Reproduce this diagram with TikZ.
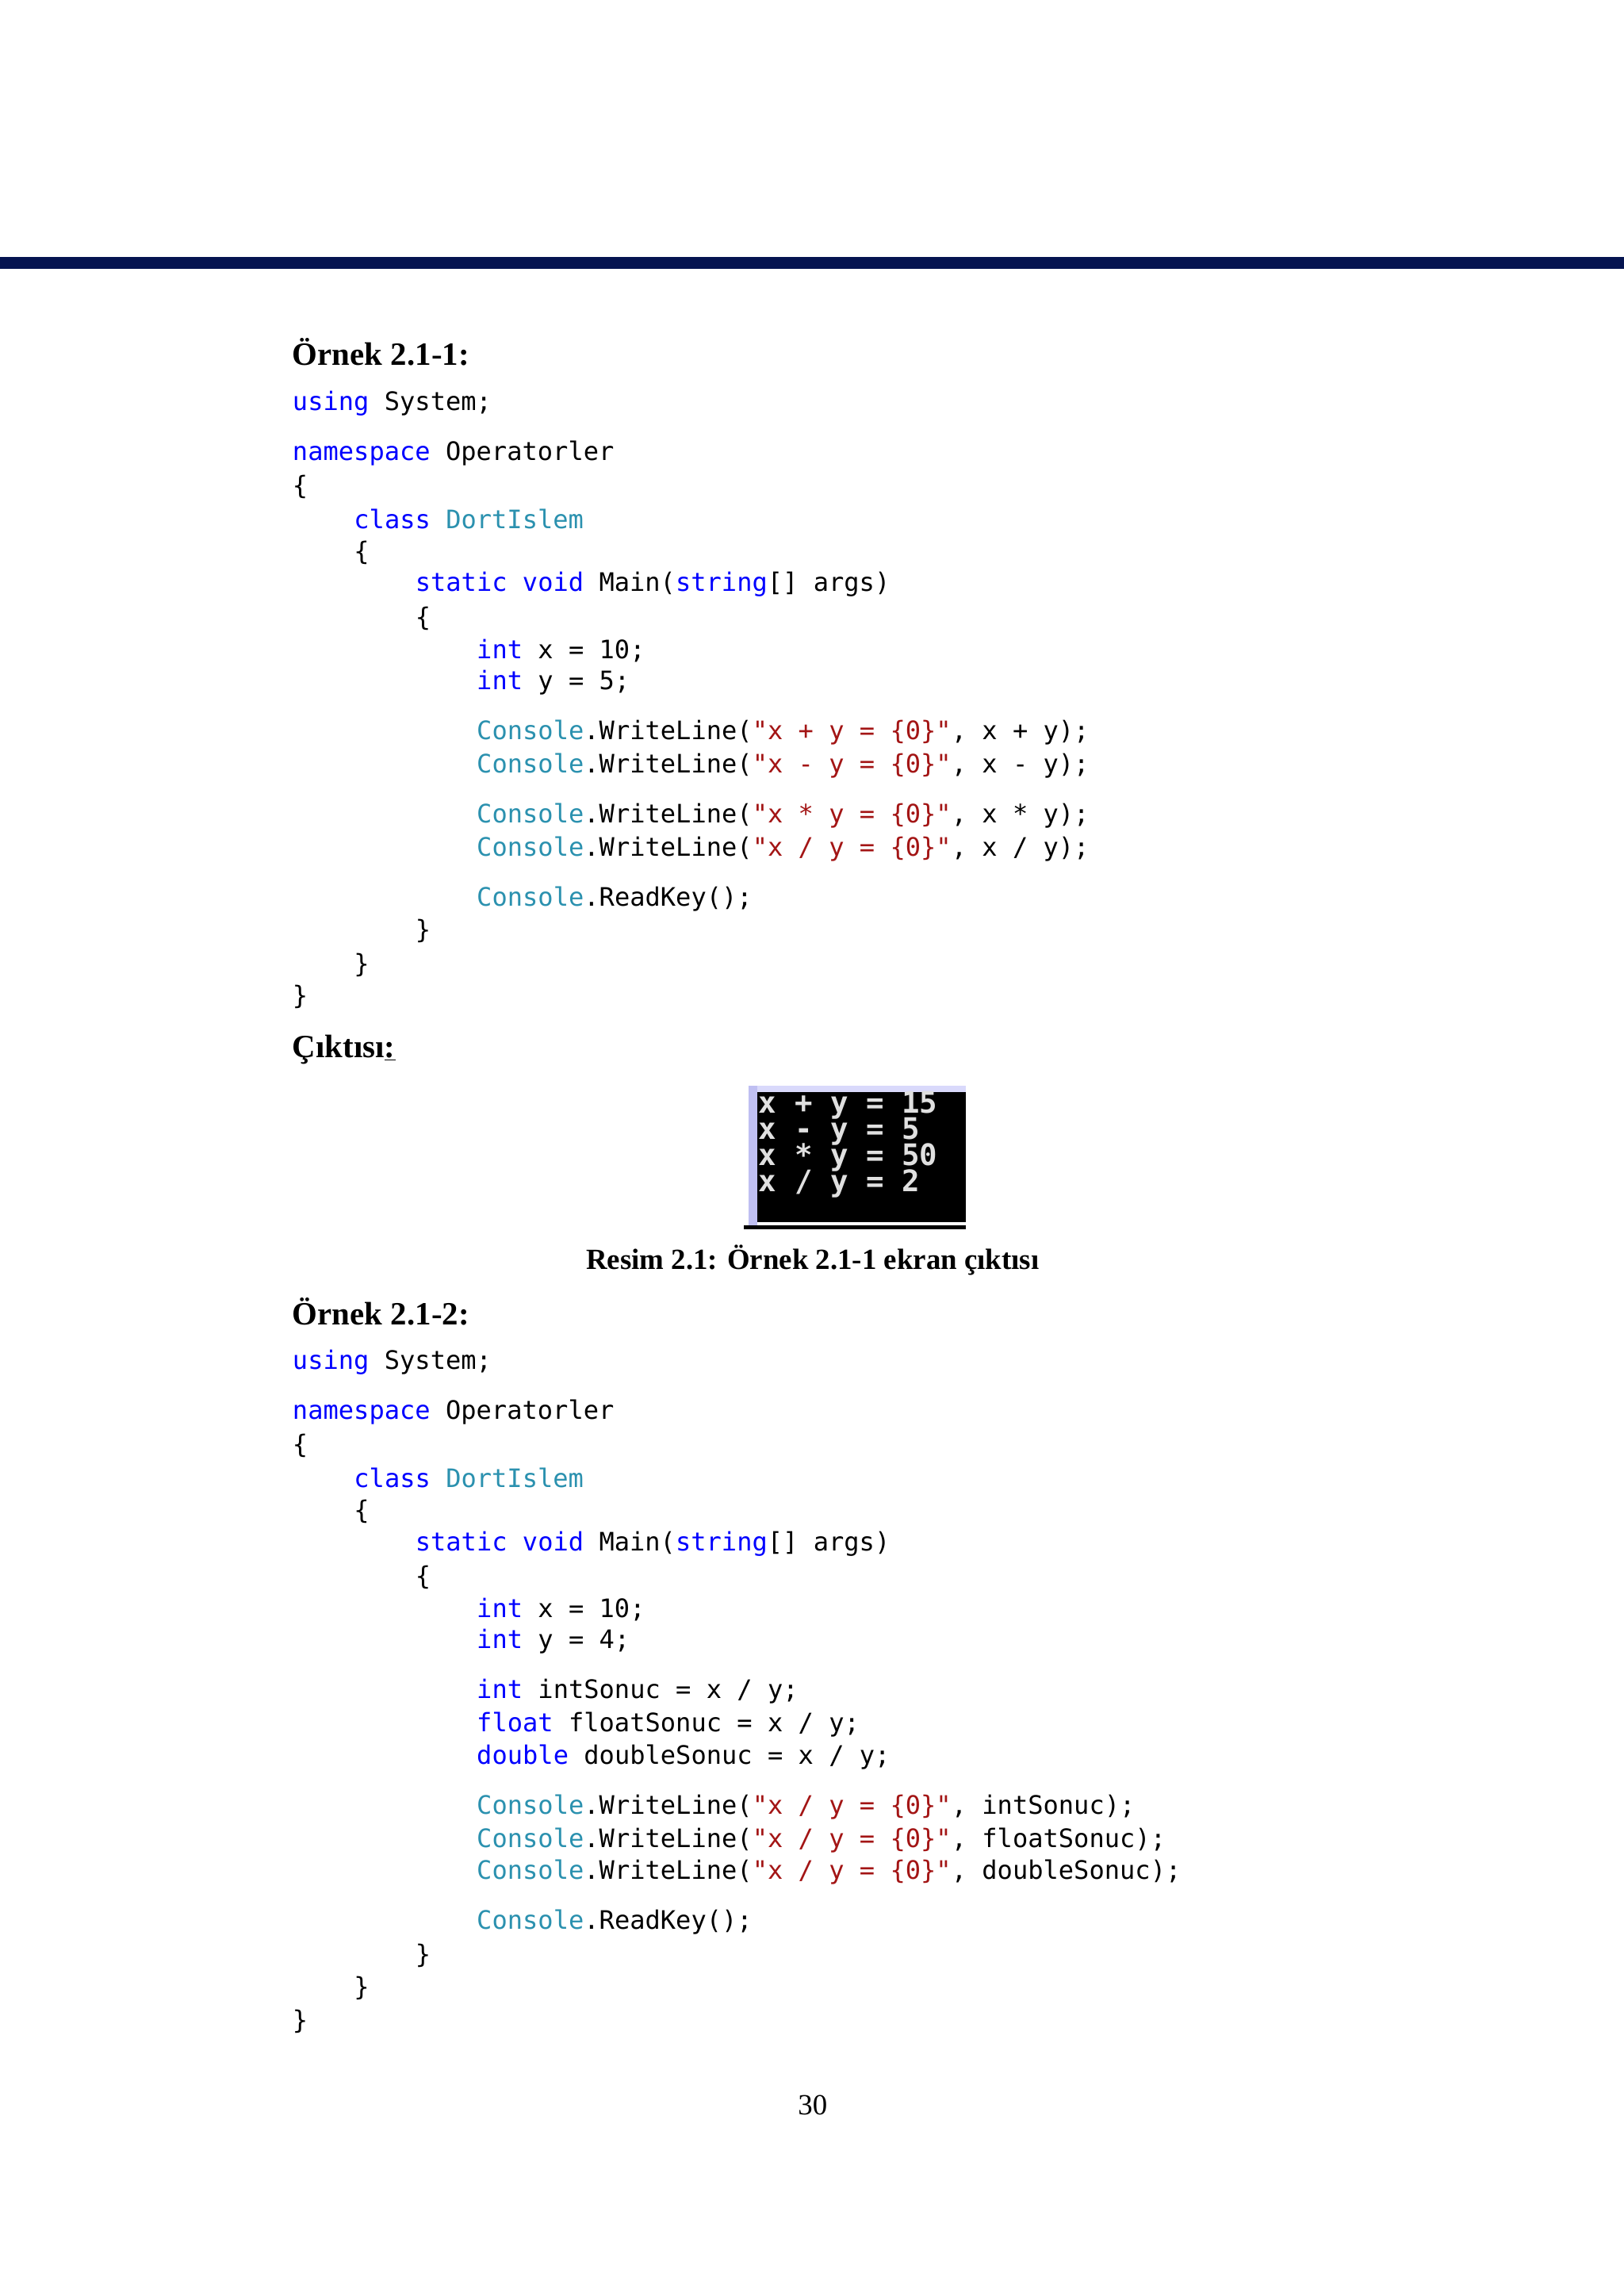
\documentclass[tikz,border=0pt]{standalone}
\usepackage{fontspec}
\setmainfont{Liberation Serif}
\newfontfamily\code{DejaVu Sans Mono}
\newfontfamily\cons{DejaVu Sans Mono}
\definecolor{kw}{RGB}{0,0,255}
\definecolor{ty}{RGB}{43,145,175}
\definecolor{st}{RGB}{163,21,21}
\definecolor{navy}{RGB}{5,20,80}
\newcommand{\K}[1]{\textcolor{kw}{#1}}
\newcommand{\T}[1]{\textcolor{ty}{#1}}
\newcommand{\Sx}[1]{\textcolor{st}{#1}}
\begin{document}
\begin{tikzpicture}[x=1pt,y=-1pt,
  cl/.style={anchor=west,inner sep=0pt,font=\code\fontsize{17.4}{20}\selectfont},
  hd/.style={anchor=west,inner sep=0pt,font=\bfseries\fontsize{22.2}{24}\selectfont},
  co/.style={anchor=west,inner sep=0pt,text=black!12,font=\cons\bfseries\fontsize{20.3}{20}\selectfont}]
\useasboundingbox[fill=white] (0,0) rectangle (1111,1568);
\fill[navy] (0,176) rectangle (1111,184);
\node[hd] (h1) at (200,241) {Örnek 2.1-1:};
\node[cl] (a1) at (200,276) {\K{using} System;};
\node[cl] (a2) at (200,310) {\K{namespace} Operatorler};
\node[cl] (a3) at (200,333) {\{};
\node[cl] (a4) at (242,355) {\K{class} \T{DortIslem}};
\node[cl] (a5) at (242,378) {\{};
\node[cl] (a6) at (284,400) {\K{static} \K{void} Main(\K{string}[] args)};
\node[cl] (a7) at (284,423) {\{};
\node[cl] (a8) at (326,445) {\K{int} x = 10;};
\node[cl] (a9) at (326,467) {\K{int} y = 5;};
\node[cl] (a10) at (326,501) {\T{Console}.WriteLine(\Sx{"x + y = \{0\}"}, x + y);};
\node[cl] (a11) at (326,524) {\T{Console}.WriteLine(\Sx{"x - y = \{0\}"}, x - y);};
\node[cl] (a12) at (326,558) {\T{Console}.WriteLine(\Sx{"x * y = \{0\}"}, x * y);};
\node[cl] (a13) at (326,581) {\T{Console}.WriteLine(\Sx{"x / y = \{0\}"}, x / y);};
\node[cl] (a14) at (326,615) {\T{Console}.ReadKey();};
\node[cl] (a15) at (284,637) {\}};
\node[cl] (a16) at (242,660) {\}};
\node[cl] (a17) at (200,682) {\}};
\node[hd] (h2) at (200,718) {Çıktısı\underline{:}};
% console
\fill[black!10!blue!15] (512,743) rectangle (661,747);
\fill[black!20!blue!25] (512,743) rectangle (518,838);
\fill[black] (518,747) rectangle (661,836);
\fill[black] (509,838) rectangle (661,841);
\node[co] (c1) at (519,756) {x + y = 15};
\node[co] (c2) at (519,774) {x - y = 5};
\node[co] (c3) at (519,792) {x * y = 50};
\node[co] (c4) at (519,810) {x / y = 2};
\node[anchor=center,inner sep=0pt,font=\bfseries\fontsize{20}{22}\selectfont] (cap) at (556,862) {Resim 2.1: Örnek 2.1-1 ekran çıktısı};
\node[hd] (h3) at (200,897) {Örnek 2.1-2:};
\node[cl] (b1) at (200,932) {\K{using} System;};
\node[cl] (b2) at (200,966) {\K{namespace} Operatorler};
\node[cl] (b3) at (200,989) {\{};
\node[cl] (b4) at (242,1011) {\K{class} \T{DortIslem}};
\node[cl] (b5) at (242,1034) {\{};
\node[cl] (b6) at (284,1056) {\K{static} \K{void} Main(\K{string}[] args)};
\node[cl] (b7) at (284,1079) {\{};
\node[cl] (b8) at (326,1101) {\K{int} x = 10;};
\node[cl] (b9) at (326,1123) {\K{int} y = 4;};
\node[cl] (b10) at (326,1157) {\K{int} intSonuc = x / y;};
\node[cl] (b11) at (326,1180) {\K{float} floatSonuc = x / y;};
\node[cl] (b12) at (326,1202) {\K{double} doubleSonuc = x / y;};
\node[cl] (b13) at (326,1236) {\T{Console}.WriteLine(\Sx{"x / y = \{0\}"}, intSonuc);};
\node[cl] (b14) at (326,1259) {\T{Console}.WriteLine(\Sx{"x / y = \{0\}"}, floatSonuc);};
\node[cl] (b15) at (326,1281) {\T{Console}.WriteLine(\Sx{"x / y = \{0\}"}, doubleSonuc);};
\node[cl] (b16) at (326,1315) {\T{Console}.ReadKey();};
\node[cl] (b17) at (284,1338) {\}};
\node[cl] (b18) at (242,1360) {\}};
\node[cl] (b19) at (200,1383) {\}};
\node[anchor=center,inner sep=0pt,font=\fontsize{20}{22}\selectfont] (pg) at (556,1440) {30};
\end{tikzpicture}
\end{document}
